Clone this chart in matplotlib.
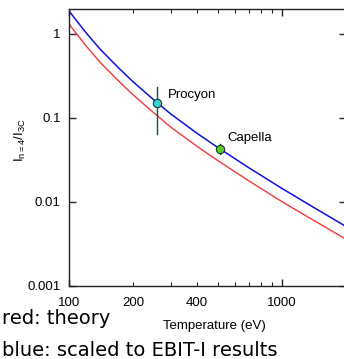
import numpy as np
import matplotlib
matplotlib.use("Agg")
from matplotlib import pyplot as plt
from matplotlib.ticker import FixedLocator, FuncFormatter, NullLocator

plt.rcParams['font.family'] = ['Liberation Sans', 'DejaVu Sans']
plt.rcParams['mathtext.fontset'] = 'custom'
plt.rcParams['mathtext.rm'] = 'Liberation Sans'
plt.rcParams['mathtext.it'] = 'Liberation Sans:italic'

# temperatures (eV) and line ratios
temp = [100, 120, 140, 170, 200, 240, 300, 400, 500, 700, 1000, 1400, 2000]
theory = [1.31, 0.727, 0.46, 0.28, 0.189, 0.126, 0.078, 0.0458, 0.0311, 0.0178, 0.0101, 0.0061, 0.0036]
scaled = [1.88, 1.04, 0.66, 0.40, 0.27, 0.180, 0.112, 0.0655, 0.0445, 0.0255, 0.0145, 0.0087, 0.0051]

# star measurements
star_names = ["Procyon", "Capella"]
star_temp = [260, 513]
star_ratio = [0.150, 0.0428]
star_lo = [0.064, 0.0372]
star_hi = [0.234, 0.0486]
star_color = ["#33d6d0", "#5cc82a"]
bar_color = ["#1d4a40", "#222222"]

fig = plt.figure(figsize=(3.44, 3.59), dpi=100)
ax = fig.add_axes([69 / 344, 73 / 359, 277.1 / 344, 277.3 / 359])

ax.plot(temp, theory, color="#ee3a3a", lw=1.0)
ax.plot(temp, scaled, color="#1010e0", lw=1.1)

for i in range(2):
    ax.plot([star_temp[i], star_temp[i]], [star_lo[i], star_hi[i]], color=bar_color[i], lw=1.0, zorder=3)
    ax.plot(star_temp[i], star_ratio[i], "o", ms=6, mfc=star_color[i], mec="#1d3a30", mew=0.8, zorder=4)

ax.text(291, 0.172, star_names[0], fontsize=9.5, ha="left", va="baseline")
ax.text(552, 0.0532, star_names[1], fontsize=9.5, ha="left", va="baseline")

ax.set_xscale("log")
ax.set_yscale("log")
ax.set_xlim(100, 2000)
ax.set_ylim(0.001, 2)

ax.xaxis.set_major_locator(FixedLocator([100, 1000]))
ax.xaxis.set_minor_locator(FixedLocator([200, 300, 400, 500, 600, 700, 800, 900, 2000]))
ax.xaxis.set_major_formatter(FuncFormatter(lambda v, p: "%d" % v))
ax.xaxis.set_minor_formatter(FuncFormatter(lambda v, p: "%d" % v if v in (200, 400) else ""))
ax.yaxis.set_major_locator(FixedLocator([0.001, 0.01, 0.1, 1]))
ax.yaxis.set_minor_locator(NullLocator())
ax.yaxis.set_major_formatter(FuncFormatter(lambda v, p: "%g" % v))

ax.tick_params(which="both", direction="in", top=True, right=True, labelsize=9.5, color="#222222")
ax.tick_params(axis="x", which="both", pad=8)
ax.tick_params(axis="y", which="both", pad=6)
ax.tick_params(which="major", length=5, width=1)
ax.tick_params(which="minor", length=3, width=0.8)
for s in ax.spines.values():
    s.set_linewidth(1.0)
    s.set_color("#222222")

fig.text(214.8 / 344, (359 - 329) / 359, "Temperature (eV)", fontsize=9.5, ha="center", va="baseline")
fig.text(20 / 344, (359 - 140) / 359, r"I$_{\mathrm{n=4}}$/I$_{\mathrm{3C}}$", fontsize=9.5,
         rotation=90, ha="center", va="center")

fig.text(2 / 344, (359 - 324) / 359, "red: theory", fontsize=14, family="DejaVu Sans", va="baseline")
fig.text(2 / 344, (359 - 356) / 359, "blue: scaled to EBIT-I results", fontsize=14, family="DejaVu Sans", va="baseline")

fig.savefig("out.png", dpi=100)
